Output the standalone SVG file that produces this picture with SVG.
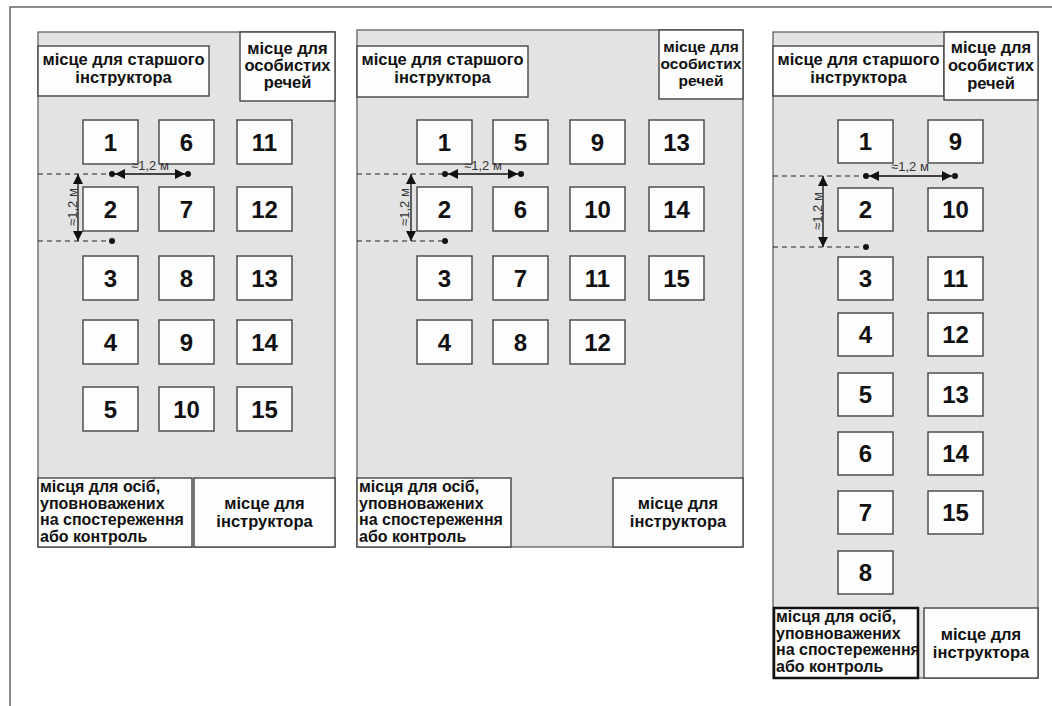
<svg xmlns="http://www.w3.org/2000/svg" width="1052" height="706" viewBox="0 0 1052 706">
<defs>
<style>
.frame{fill:none;stroke:#666;stroke-width:1.5}
.panel{fill:#e3e3e3;stroke:#555;stroke-width:1.2}
.box{fill:#fdfdfd;stroke:#444;stroke-width:1.4}
.boxk{fill:#fdfdfd;stroke:#111;stroke-width:2.5}
.num{font-family:"Liberation Sans",Arial,sans-serif;font-weight:bold;font-size:24px;fill:#111;text-anchor:middle}
.lbl{font-family:"Liberation Sans",Arial,sans-serif;font-weight:bold;font-size:16.5px;fill:#111}
.sm{font-size:16px}
.xs{font-size:15.5px}
.c{text-anchor:middle}
.dim{font-family:"Liberation Sans",Arial,sans-serif;font-size:13px;fill:#333;text-anchor:middle}
.dash{stroke:#222;stroke-width:1.2;stroke-dasharray:5,4;fill:none}
.arr{stroke:#111;stroke-width:1.3;fill:none;marker-start:url(#ah);marker-end:url(#ah)}
.dot{fill:#111}
</style>
<marker id="ah" viewBox="0 0 10 10" refX="10" refY="5" markerWidth="10" markerHeight="10" markerUnits="userSpaceOnUse" orient="auto-start-reverse">
<path d="M0,0 L10,5 L0,10 z" fill="#111"/>
</marker>
</defs>
<rect width="1052" height="706" fill="#fff"/>
<path class="frame" d="M1052,7 H10 V706"/>

<!-- Panel 1 -->
<g id="panel1">
<rect class="panel" x="38" y="32" width="297" height="515"/>
<g id="p1-senior"><rect class="box" x="38" y="46" width="171" height="50"/>
<text class="lbl c" x="123.5" y="65">місце для старшого</text><text class="lbl c" x="123.5" y="83">інструктора</text></g>
<g id="p1-personal"><rect class="box" x="240" y="32" width="95" height="69"/>
<text class="lbl c" x="287.5" y="54">місце для</text><text class="lbl c" x="287.5" y="71">особистих</text><text class="lbl c" x="287.5" y="88">речей</text></g>
<g id="p1-s1"><rect class="box" x="83" y="120" width="55" height="44"/><text class="num" x="110.5" y="150.5">1</text></g>
<g id="p1-s2"><rect class="box" x="83" y="187" width="55" height="44"/><text class="num" x="110.5" y="217.5">2</text></g>
<g id="p1-s3"><rect class="box" x="83" y="256" width="55" height="44"/><text class="num" x="110.5" y="286.5">3</text></g>
<g id="p1-s4"><rect class="box" x="83" y="320" width="55" height="44"/><text class="num" x="110.5" y="350.5">4</text></g>
<g id="p1-s5"><rect class="box" x="83" y="387" width="55" height="44"/><text class="num" x="110.5" y="417.5">5</text></g>
<g id="p1-s6"><rect class="box" x="159" y="120" width="55" height="44"/><text class="num" x="186.5" y="150.5">6</text></g>
<g id="p1-s7"><rect class="box" x="159" y="187" width="55" height="44"/><text class="num" x="186.5" y="217.5">7</text></g>
<g id="p1-s8"><rect class="box" x="159" y="256" width="55" height="44"/><text class="num" x="186.5" y="286.5">8</text></g>
<g id="p1-s9"><rect class="box" x="159" y="320" width="55" height="44"/><text class="num" x="186.5" y="350.5">9</text></g>
<g id="p1-s10"><rect class="box" x="159" y="387" width="55" height="44"/><text class="num" x="186.5" y="417.5">10</text></g>
<g id="p1-s11"><rect class="box" x="237" y="120" width="55" height="44"/><text class="num" x="264.5" y="150.5">11</text></g>
<g id="p1-s12"><rect class="box" x="237" y="187" width="55" height="44"/><text class="num" x="264.5" y="217.5">12</text></g>
<g id="p1-s13"><rect class="box" x="237" y="256" width="55" height="44"/><text class="num" x="264.5" y="286.5">13</text></g>
<g id="p1-s14"><rect class="box" x="237" y="320" width="55" height="44"/><text class="num" x="264.5" y="350.5">14</text></g>
<g id="p1-s15"><rect class="box" x="237" y="387" width="55" height="44"/><text class="num" x="264.5" y="417.5">15</text></g>
<g id="p1-observers"><rect class="box" x="38" y="478" width="154" height="69"/>
<text class="lbl sm" x="40" y="492">місця для осіб,</text><text class="lbl sm" x="40" y="508.5">уповноважених</text><text class="lbl sm" x="40" y="525">на спостереження</text><text class="lbl sm" x="40" y="541.5">або контроль</text></g>
<g id="p1-instructor"><rect class="box" x="194" y="478" width="141" height="69"/>
<text class="lbl c" x="264.5" y="509">місце для</text><text class="lbl c" x="264.5" y="527">інструктора</text></g>
</g>

<!-- Panel 2 -->
<g id="panel2">
<rect class="panel" x="357" y="30" width="386" height="517"/>
<g id="p2-senior"><rect class="box" x="357" y="46" width="171" height="51"/>
<text class="lbl c" x="442.5" y="65">місце для старшого</text><text class="lbl c" x="442.5" y="83">інструктора</text></g>
<g id="p2-personal"><rect class="box" x="659" y="30" width="84" height="69"/>
<text class="lbl xs c" x="701" y="52">місце для</text><text class="lbl xs c" x="701" y="69">особистих</text><text class="lbl xs c" x="701" y="86">речей</text></g>
<g id="p2-s1"><rect class="box" x="417" y="120" width="55" height="44"/><text class="num" x="444.5" y="150.5">1</text></g>
<g id="p2-s2"><rect class="box" x="417" y="187" width="55" height="44"/><text class="num" x="444.5" y="217.5">2</text></g>
<g id="p2-s3"><rect class="box" x="417" y="256" width="55" height="44"/><text class="num" x="444.5" y="286.5">3</text></g>
<g id="p2-s4"><rect class="box" x="417" y="320" width="55" height="44"/><text class="num" x="444.5" y="350.5">4</text></g>
<g id="p2-s5"><rect class="box" x="493" y="120" width="55" height="44"/><text class="num" x="520.5" y="150.5">5</text></g>
<g id="p2-s6"><rect class="box" x="493" y="187" width="55" height="44"/><text class="num" x="520.5" y="217.5">6</text></g>
<g id="p2-s7"><rect class="box" x="493" y="256" width="55" height="44"/><text class="num" x="520.5" y="286.5">7</text></g>
<g id="p2-s8"><rect class="box" x="493" y="320" width="55" height="44"/><text class="num" x="520.5" y="350.5">8</text></g>
<g id="p2-s9"><rect class="box" x="570" y="120" width="55" height="44"/><text class="num" x="597.5" y="150.5">9</text></g>
<g id="p2-s10"><rect class="box" x="570" y="187" width="55" height="44"/><text class="num" x="597.5" y="217.5">10</text></g>
<g id="p2-s11"><rect class="box" x="570" y="256" width="55" height="44"/><text class="num" x="597.5" y="286.5">11</text></g>
<g id="p2-s12"><rect class="box" x="570" y="320" width="55" height="44"/><text class="num" x="597.5" y="350.5">12</text></g>
<g id="p2-s13"><rect class="box" x="649" y="120" width="55" height="44"/><text class="num" x="676.5" y="150.5">13</text></g>
<g id="p2-s14"><rect class="box" x="649" y="187" width="55" height="44"/><text class="num" x="676.5" y="217.5">14</text></g>
<g id="p2-s15"><rect class="box" x="649" y="256" width="55" height="44"/><text class="num" x="676.5" y="286.5">15</text></g>
<g id="p2-observers"><rect class="box" x="357" y="478" width="154" height="69"/>
<text class="lbl sm" x="359" y="492">місця для осіб,</text><text class="lbl sm" x="359" y="508.5">уповноважених</text><text class="lbl sm" x="359" y="525">на спостереження</text><text class="lbl sm" x="359" y="541.5">або контроль</text></g>
<g id="p2-instructor"><rect class="box" x="613" y="478" width="130" height="69"/>
<text class="lbl c" x="678" y="509">місце для</text><text class="lbl c" x="678" y="527">інструктора</text></g>
</g>

<!-- Panel 3 -->
<g id="panel3">
<rect class="panel" x="773" y="32" width="265" height="646"/>
<g id="p3-senior"><rect class="box" x="773" y="46" width="171" height="50"/>
<text class="lbl c" x="858.5" y="65">місце для старшого</text><text class="lbl c" x="858.5" y="83">інструктора</text></g>
<g id="p3-personal"><rect class="box" x="944" y="32" width="94" height="68"/>
<text class="lbl c" x="991" y="53">місце для</text><text class="lbl c" x="991" y="71">особистих</text><text class="lbl c" x="991" y="89">речей</text></g>
<g id="p3-s1"><rect class="box" x="838" y="120" width="55" height="43"/><text class="num" x="865.5" y="150">1</text></g>
<g id="p3-s2"><rect class="box" x="838" y="188" width="55" height="43"/><text class="num" x="865.5" y="218">2</text></g>
<g id="p3-s3"><rect class="box" x="838" y="257" width="55" height="43"/><text class="num" x="865.5" y="287">3</text></g>
<g id="p3-s4"><rect class="box" x="838" y="313" width="55" height="43"/><text class="num" x="865.5" y="343">4</text></g>
<g id="p3-s5"><rect class="box" x="838" y="373" width="55" height="43"/><text class="num" x="865.5" y="403">5</text></g>
<g id="p3-s6"><rect class="box" x="838" y="432" width="55" height="43"/><text class="num" x="865.5" y="462">6</text></g>
<g id="p3-s7"><rect class="box" x="838" y="491" width="55" height="43"/><text class="num" x="865.5" y="521">7</text></g>
<g id="p3-s8"><rect class="box" x="838" y="551" width="55" height="43"/><text class="num" x="865.5" y="581">8</text></g>
<g id="p3-s9"><rect class="box" x="928" y="120" width="55" height="43"/><text class="num" x="955.5" y="150">9</text></g>
<g id="p3-s10"><rect class="box" x="928" y="188" width="55" height="43"/><text class="num" x="955.5" y="218">10</text></g>
<g id="p3-s11"><rect class="box" x="928" y="257" width="55" height="43"/><text class="num" x="955.5" y="287">11</text></g>
<g id="p3-s12"><rect class="box" x="928" y="313" width="55" height="43"/><text class="num" x="955.5" y="343">12</text></g>
<g id="p3-s13"><rect class="box" x="928" y="373" width="55" height="43"/><text class="num" x="955.5" y="403">13</text></g>
<g id="p3-s14"><rect class="box" x="928" y="432" width="55" height="43"/><text class="num" x="955.5" y="462">14</text></g>
<g id="p3-s15"><rect class="box" x="928" y="491" width="55" height="43"/><text class="num" x="955.5" y="521">15</text></g>
<g id="p3-observers"><rect class="boxk" x="774" y="608" width="144" height="70"/>
<text class="lbl sm" x="776" y="622">місця для осіб,</text><text class="lbl sm" x="776" y="638.5">уповноважених</text><text class="lbl sm" x="776" y="655">на спостереження</text><text class="lbl sm" x="776" y="671.5">або контроль</text></g>
<g id="p3-instructor"><rect class="box" x="924" y="608" width="114" height="70"/>
<text class="lbl c" x="981" y="640">місце для</text><text class="lbl c" x="981" y="658">інструктора</text></g>
</g>

<!-- Connectors: dimension lines -->
<g id="connectors">
<path class="dash" d="M38,174 H109 M38,241 H109"/>
<circle class="dot" cx="112" cy="174" r="3"/><circle class="dot" cx="188" cy="174" r="3"/><circle class="dot" cx="112" cy="241" r="3"/>
<line class="arr" x1="115" y1="174" x2="185" y2="174"/>
<line class="arr" x1="78" y1="174" x2="78" y2="241"/>
<text class="dim" x="150" y="170">≈1,2 м</text>
<text class="dim" transform="translate(77,207) rotate(-90)">≈1,2 м</text>

<path class="dash" d="M357,174 H442 M357,241 H442"/>
<circle class="dot" cx="445" cy="174" r="3"/><circle class="dot" cx="521" cy="174" r="3"/><circle class="dot" cx="445" cy="241" r="3"/>
<line class="arr" x1="448" y1="174" x2="518" y2="174"/>
<line class="arr" x1="411" y1="174" x2="411" y2="241"/>
<text class="dim" x="483" y="170">≈1,2 м</text>
<text class="dim" transform="translate(409,207) rotate(-90)">≈1,2 м</text>

<path class="dash" d="M773,176 H863 M773,247 H863"/>
<circle class="dot" cx="866" cy="176" r="3"/><circle class="dot" cx="955" cy="176" r="3"/><circle class="dot" cx="866" cy="247" r="3"/>
<line class="arr" x1="869" y1="176" x2="952" y2="176"/>
<line class="arr" x1="823" y1="176" x2="823" y2="247"/>
<text class="dim" x="910" y="171">≈1,2 м</text>
<text class="dim" transform="translate(822,211) rotate(-90)">≈1,2 м</text>
</g>
</svg>
